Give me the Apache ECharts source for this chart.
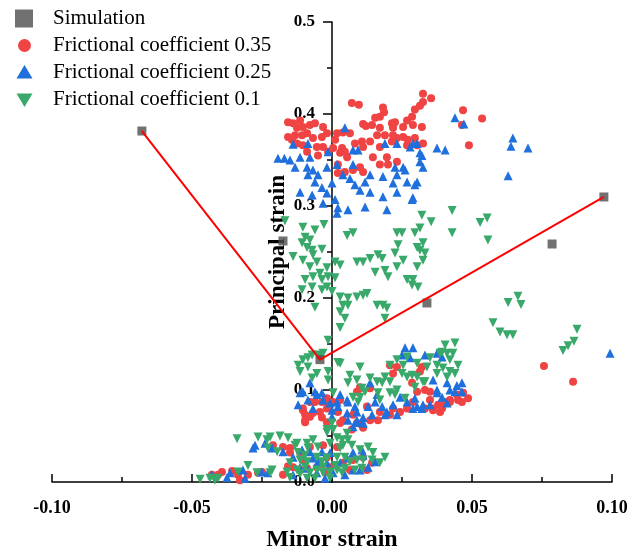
<!DOCTYPE html>
<html>
<head>
<meta charset="utf-8">
<script src="https://cdn.jsdelivr.net/npm/echarts@6/dist/echarts.min.js"></script>
<style>
html,body{margin:0;padding:0;background:#fff;}
#chart{width:635px;height:555px;}
</style>
</head>
<body>
<div id="chart"></div>
<script>
var seriesNames = ['Simulation', 'Frictional coefficient 0.35', 'Frictional coefficient 0.25', 'Frictional coefficient 0.1'];
var xTicks = [-0.10, -0.05, 0.00, 0.05, 0.10];
var yTicks = [0.0, 0.1, 0.2, 0.3, 0.4, 0.5];

var simulation = [[-0.0679,0.3815],[-0.0175,0.262],[-0.0043,0.133],[0.0339,0.1946],[0.0786,0.2587],[0.0971,0.3098]];
var limitLine = [[-0.0679,0.3815],[-0.0043,0.133],[0.0971,0.3098]];

var fc035 = [
[0.0071,0.412],[0.0096,0.410],[0.0325,0.422],[0.0354,0.417],[0.0325,0.413],[0.0314,0.409],[0.0296,0.405],[0.0286,0.397],[0.0268,0.393],
[0.0182,0.407],[0.0186,0.402],[0.0154,0.396],[0.0171,0.397],[0.0111,0.389],[0.0121,0.387],[0.0143,0.388],[0.0171,0.385],[0.0214,0.390],
[0.0225,0.391],[0.0218,0.385],[0.0254,0.386],[0.0289,0.388],[0.0321,0.386],[0.0468,0.404],[0.0536,0.395],[0.0464,0.388],[0.0489,0.366],
[-0.0157,0.391],[-0.0139,0.390],[-0.0114,0.393],[-0.0125,0.385],[-0.0104,0.386],[-0.0079,0.388],[-0.0061,0.390],[-0.0032,0.386],
[-0.0157,0.375],[-0.0132,0.377],[-0.0107,0.377],[-0.0089,0.379],[-0.0068,0.374],[-0.0036,0.375],[-0.0018,0.379],[0.0018,0.379],
[0.0039,0.380],[0.0011,0.372],[0.0036,0.363],[0.0004,0.363],[-0.0032,0.364],[-0.0054,0.364],[-0.0104,0.366],[-0.0125,0.368],
[-0.0143,0.372],[-0.0089,0.359],[-0.0050,0.355],[-0.0014,0.359],[0.0029,0.358],[0.0054,0.353],[0.0021,0.345],[0.0021,0.336],
[0.0082,0.368],[0.0107,0.370],[0.0136,0.370],[0.0111,0.364],[0.0146,0.353],[0.0171,0.364],[0.0196,0.353],[0.0214,0.370],
[0.0232,0.374],[0.0218,0.377],[0.0254,0.375],[0.0271,0.372],[0.0296,0.374],[0.0268,0.366],[0.0304,0.366],[0.0325,0.368],
[0.0171,0.345],[0.0200,0.345],[0.0232,0.348],[0.0100,0.342],[0.0111,0.337],[0.0075,0.339],[0.0046,0.337],[0.0046,0.359],
[0.0161,0.377],[0.0189,0.377],[0.0064,0.379],
[-0.0104,0.080],[-0.0089,0.071],[-0.0096,0.065],[-0.0068,0.075],[-0.0043,0.076],[-0.0036,0.070],[-0.0061,0.087],[0.0004,0.087],
[0.0021,0.076],[0.0039,0.067],[0.0075,0.073],[0.0089,0.064],[0.0107,0.062],[0.0136,0.067],[0.0164,0.067],[0.0171,0.076],
[0.0207,0.073],[0.0218,0.080],[0.0243,0.076],[0.0268,0.080],[0.0289,0.087],[0.0332,0.080],[0.0361,0.080],[0.0379,0.084],
[0.0404,0.087],[0.0421,0.089],[0.0450,0.089],[0.0486,0.091],[0.0446,0.095],[0.0304,0.098],[0.0332,0.100],[0.0350,0.098],
[0.0314,0.120],[0.0321,0.125],[0.0218,0.118],[0.0232,0.125],[0.0207,0.127],[0.0286,0.108],[0.0136,0.102],[0.0100,0.103],
[0.0089,0.098],[0.0029,0.089],[-0.0018,0.091],[-0.0079,0.087],[-0.0018,0.080],[0.0125,0.082],[0.0350,0.089],[0.0386,0.076],
[0.0464,0.087],[-0.0096,0.073],[-0.0104,0.078],[-0.0079,0.071],[-0.0036,0.087],[-0.0014,0.087],[0.0100,0.102],[0.0468,0.097],
[0.0421,0.087],[0.0393,0.080],[0.0361,0.078],[-0.0096,0.067],[-0.0018,0.065],[0.0029,0.064],[0.0071,0.057],[0.0111,0.059],
[-0.0393,0.011],[-0.0357,0.012],[-0.0336,0.008],[-0.0300,0.008],[-0.0257,0.011],[-0.0329,0.002],[-0.0407,0.008],[-0.0429,0.008],
[-0.0211,0.040],[-0.0175,0.038],[-0.0150,0.037],[-0.0079,0.038],[-0.0032,0.040],[0.0018,0.038],[-0.0018,0.027],[-0.0150,0.032],
[-0.0114,0.032],[-0.0104,0.024],[-0.0139,0.016],[-0.0114,0.013],[-0.0089,0.015],[-0.0054,0.016],[-0.0007,0.016],[0.0039,0.021],
[0.0075,0.024],[0.0111,0.027],[0.0143,0.021],[0.0125,0.013],[0.0064,0.013],[-0.0025,0.011],[-0.0264,0.010],[-0.0250,0.011],
[-0.0157,0.017],[-0.0175,0.008],
[0.0757,0.126],[0.0861,0.109]
];

var fc025 = [
[0.0046,0.385],[-0.0139,0.367],[-0.0086,0.368],[-0.0079,0.353],[-0.0193,0.352],[-0.0170,0.352],[-0.0150,0.350],[-0.0114,0.353],[-0.0132,0.342],
[-0.0089,0.342],[-0.0068,0.339],[-0.0050,0.334],[-0.0086,0.334],[-0.0061,0.326],[-0.0114,0.315],[-0.0071,0.312],[-0.0036,0.320],
[-0.0018,0.314],[0.0000,0.325],[-0.0018,0.342],[-0.0014,0.359],[0.0018,0.345],[0.0039,0.334],[0.0075,0.345],[0.0064,0.330],
[0.0082,0.323],[0.0100,0.317],[0.0118,0.326],[0.0136,0.334],[0.0136,0.315],[0.0075,0.361],[0.0093,0.361],[0.0189,0.368],
[0.0232,0.368],[0.0279,0.364],[0.0304,0.368],[0.0321,0.355],[0.0314,0.348],[0.0325,0.342],[0.0254,0.342],[0.0225,0.342],
[0.0232,0.334],[0.0182,0.332],[0.0218,0.325],[0.0268,0.326],[0.0304,0.326],[0.0296,0.323],[0.0232,0.315],[0.0182,0.310],
[0.0286,0.307],[0.0261,0.339],[0.0375,0.363],[0.0404,0.361],[0.0439,0.396],[0.0471,0.389],[0.0011,0.307],[0.0057,0.296],
[-0.0032,0.303],[0.0021,0.298],[0.0118,0.299],[0.0196,0.296],[0.0018,0.292],[0.0289,0.309],[0.0646,0.374],[0.0639,0.365],
[0.0700,0.363],[0.0629,0.333],[0.0993,0.140],[0.0289,0.368],[0.0314,0.358],
[0.0261,0.146],[0.0289,0.146],[0.0250,0.138],[0.0279,0.135],[0.0332,0.138],[0.0375,0.140],[0.0393,0.136],[-0.0079,0.108],
[-0.0061,0.098],[-0.0036,0.097],[-0.0114,0.097],[-0.0086,0.089],[-0.0032,0.089],[-0.0121,0.084],[-0.0068,0.080],[0.0000,0.078],
[0.0018,0.087],[0.0029,0.095],[0.0057,0.087],[0.0082,0.082],[0.0054,0.075],[0.0000,0.071],[0.0057,0.067],[0.0089,0.067],
[0.0111,0.064],[0.0143,0.073],[0.0129,0.082],[0.0154,0.087],[0.0179,0.082],[0.0196,0.076],[0.0218,0.084],[0.0243,0.092],
[0.0268,0.087],[0.0296,0.091],[0.0304,0.082],[0.0321,0.080],[0.0232,0.073],[0.0189,0.073],[0.0136,0.108],[0.0161,0.095],
[0.0361,0.111],[0.0375,0.100],[0.0411,0.108],[0.0421,0.100],[0.0446,0.105],[0.0464,0.098],[0.0393,0.092],[0.0411,0.086],
[0.0350,0.084],[0.0075,0.060],[-0.0104,0.098],[-0.0054,0.095],[-0.0007,0.086],[0.0021,0.082],[0.0054,0.089],[0.0089,0.076],
[0.0111,0.070],[0.0439,0.098],[0.0464,0.108],[0.0375,0.097],[0.0325,0.084],[0.0289,0.080],
[-0.0429,0.008],[-0.0375,0.005],[-0.0275,0.040],[-0.0239,0.042],[-0.0282,0.037],[-0.0214,0.037],[-0.0175,0.033],[-0.0250,0.011],
[-0.0229,0.010],[-0.0139,0.027],[-0.0107,0.035],[-0.0079,0.033],[-0.0068,0.026],[-0.0036,0.033],[-0.0007,0.032],[-0.0050,0.022],
[-0.0018,0.021],[-0.0089,0.015],[-0.0139,0.008],[-0.0054,0.010],[0.0004,0.010],[0.0029,0.021],[0.0054,0.026],[0.0075,0.032],
[0.0107,0.035],[0.0111,0.029],[0.0075,0.013],[0.0129,0.016],[0.0089,0.065],[0.0111,0.064],[-0.0311,0.004],[-0.0364,0.010],
[-0.0114,0.016],[-0.0025,0.004],[0.0046,0.008],[0.0100,0.013],[0.0154,0.022],[-0.0318,0.013]
];

var fc01 = [
[-0.0168,0.284],[-0.0104,0.277],[-0.0061,0.274],[-0.0029,0.280],[-0.0096,0.266],[-0.0079,0.263],[-0.0107,0.260],[-0.0089,0.255],
[-0.0071,0.252],[-0.0036,0.253],[-0.0139,0.245],[-0.0104,0.241],[-0.0068,0.247],[-0.0054,0.239],[-0.0018,0.233],[-0.0079,0.234],
[-0.0043,0.227],[-0.0096,0.220],[-0.0068,0.223],[-0.0036,0.220],[-0.0014,0.223],[0.0011,0.222],[-0.0018,0.212],[-0.0036,0.209],
[0.0000,0.207],[-0.0107,0.209],[-0.0071,0.212],[0.0011,0.239],[0.0029,0.236],[0.0054,0.268],[0.0075,0.271],[0.0089,0.239],
[0.0111,0.239],[0.0136,0.243],[0.0164,0.247],[0.0179,0.243],[0.0154,0.228],[0.0189,0.230],[0.0200,0.223],[0.0232,0.271],
[0.0250,0.271],[0.0236,0.258],[0.0225,0.249],[0.0254,0.241],[0.0232,0.234],[0.0268,0.220],[0.0289,0.220],[0.0286,0.214],
[0.0307,0.212],[0.0304,0.234],[0.0325,0.241],[0.0332,0.249],[0.0314,0.252],[0.0304,0.255],[0.0296,0.271],[0.0314,0.276],
[0.0321,0.290],[0.0325,0.260],[0.0429,0.295],[0.0354,0.283],[0.0429,0.271],[0.0529,0.282],[0.0554,0.287],[0.0557,0.263],
[0.0029,0.201],[0.0057,0.200],[0.0089,0.201],[0.0111,0.203],[0.0125,0.205],[0.0039,0.192],[0.0057,0.192],[0.0029,0.185],
[0.0161,0.192],[0.0182,0.192],[0.0196,0.189],[0.0189,0.178],[0.0046,0.178],[0.0029,0.168],[-0.0061,0.190],[-0.0014,0.154],
[-0.0032,0.140],[-0.0043,0.136],[-0.0086,0.135],[0.0575,0.173],[0.0600,0.163],[0.0625,0.160],[0.0646,0.160],[0.0629,0.195],
[0.0664,0.202],[0.0675,0.193],[0.0875,0.166],[0.0864,0.153],[0.0843,0.148],[0.0825,0.143],
[-0.0050,0.138],[-0.0104,0.133],[-0.0121,0.127],[-0.0086,0.125],[-0.0054,0.118],[-0.0071,0.113],[-0.0014,0.120],[-0.0014,0.111],
[0.0029,0.129],[0.0100,0.125],[0.0064,0.116],[0.0057,0.108],[0.0089,0.111],[0.0107,0.102],[0.0136,0.113],[0.0161,0.109],
[0.0179,0.108],[0.0189,0.114],[0.0207,0.109],[0.0207,0.127],[0.0232,0.133],[0.0250,0.118],[0.0254,0.127],[0.0268,0.114],
[0.0296,0.103],[0.0304,0.114],[0.0332,0.109],[0.0207,0.097],[0.0232,0.100],[0.0164,0.097],[0.0118,0.098],[0.0100,0.092],
[0.0075,0.092],[0.0093,0.087],[0.0261,0.091],[0.0268,0.136],[0.0304,0.129],[0.0339,0.125],[0.0375,0.127],[0.0393,0.141],
[0.0411,0.140],[0.0439,0.151],[0.0432,0.140],[0.0421,0.133],[0.0396,0.124],[0.0421,0.120],[0.0439,0.118],[0.0450,0.127],
[0.0411,0.114],[0.0004,0.097],[0.0021,0.130],[0.0386,0.140],[0.0375,0.118],[0.0286,0.116],[0.0325,0.109],[0.0054,0.053],
[0.0029,0.037],[0.0036,0.046],[-0.0018,0.057],[0.0000,0.064],
[-0.0071,0.138],[-0.0114,0.120],[0.0225,0.095],[0.0171,0.089],[0.0350,0.135],[0.0404,0.149],
[-0.0471,0.003],[-0.0436,0.004],[-0.0418,0.002],[-0.0336,0.011],[-0.0339,0.047],[-0.0300,0.018],[-0.0264,0.049],[-0.0221,0.049],
[-0.0186,0.050],[-0.0157,0.048],[-0.0229,0.037],[-0.0196,0.033],[-0.0221,0.010],[-0.0125,0.042],[-0.0089,0.042],[-0.0121,0.032],
[-0.0096,0.029],[-0.0086,0.037],[-0.0050,0.038],[-0.0007,0.042],[0.0018,0.048],[0.0039,0.040],[-0.0018,0.054],[0.0004,0.057],
[0.0057,0.046],[-0.0150,0.021],[-0.0161,0.011],[-0.0125,0.013],[-0.0096,0.016],[-0.0079,0.010],[-0.0054,0.013],[-0.0032,0.016],
[-0.0007,0.011],[0.0018,0.013],[-0.0018,0.026],[0.0018,0.027],[0.0046,0.027],[0.0064,0.022],[0.0089,0.024],[0.0111,0.024],
[0.0146,0.032],[0.0171,0.021],[0.0143,0.024],[0.0036,0.010],[-0.0054,0.027],[-0.0114,0.024],[-0.0089,0.022],[-0.0032,0.010],
[-0.0150,0.005],[-0.0089,0.004],[-0.0268,0.010],[-0.0214,0.013],[-0.0232,0.046],[-0.0407,0.004],
[-0.0132,0.040],[-0.0068,0.046],[-0.0036,0.022],[0.0011,0.018],[0.0046,0.015],[0.0082,0.013],[0.0107,0.015],[-0.0007,0.004],
[-0.0061,0.004],[-0.0114,0.009],[0.0071,0.040],[0.0100,0.035],[0.0189,0.027],[0.0129,0.038]
];

var colors = {sim:'#4d4d4d', red:'#f04343', blue:'#1f6fdc', green:'#38a96a', line:'#ff0000'};
var serif = "'Liberation Serif','Times New Roman',serif";

var icons = {
  square: 'path://M0,0L18,0L18,18L0,18Z M33,18',
  circle: 'path://M0,0 M33,18 M16,9 A6.5,6.5 0 1 1 3,9 A6.5,6.5 0 1 1 16,9 Z',
  up: 'path://M0,0 M33,18 M9.5,1.5 L17.5,15 L1.5,15 Z',
  down: 'path://M0,0 M33,18 M1.5,3 L17.5,3 L9.5,16.5 Z'
};

var gridLeft = 52, gridRight = 23;
var plotWidth = 635 - gridLeft - gridRight;
var yAxisShift = -plotWidth * (0 - xTicks[0]) / (xTicks[xTicks.length-1] - xTicks[0]);

var chart = echarts.init(document.getElementById('chart'), null, {renderer:'canvas'});
chart.setOption({
  animation: false,
  backgroundColor: '#fff',
  grid: {left: gridLeft, right: gridRight, top: 22, bottom: 73, containLabel: false, outerBoundsMode: 'none'},
  legend: {
    orient: 'vertical', left: 10, top: 3, itemWidth: 33, itemHeight: 18, itemGap: 6,
    textStyle: {fontFamily: serif, fontSize: 21, lineHeight: 18, color: '#000'},
    data: [
      {name: seriesNames[0], icon: icons.square},
      {name: seriesNames[1], icon: icons.circle},
      {name: seriesNames[2], icon: icons.up},
      {name: seriesNames[3], icon: icons.down}
    ]
  },
  xAxis: {
    type: 'value', min: xTicks[0], max: xTicks[xTicks.length-1], interval: 0.05,
    name: 'Minor strain', nameLocation: 'middle', nameGap: 46,
    nameTextStyle: {fontFamily: serif, fontSize: 24, fontWeight: 'bold', color: '#000'},
    axisLine: {show: true, onZero: false, lineStyle: {color: '#000', width: 1.5}},
    axisTick: {show: true, inside: true, length: 8, lineStyle: {color: '#000', width: 1.5}},
    minorTick: {show: true, splitNumber: 2, length: 5, lineStyle: {color: '#000', width: 1.5}},
    splitLine: {show: false},
    axisLabel: {fontFamily: serif, fontSize: 18, fontWeight: 'bold', color: '#000', margin: 17,
      formatter: function(v){ return (Math.abs(v) < 1e-9 ? 0 : v).toFixed(2); }}
  },
  yAxis: {
    type: 'value', position: 'left', offset: yAxisShift,
    min: yTicks[0], max: yTicks[yTicks.length-1], interval: 0.1,
    name: 'Principal strain', nameLocation: 'middle', nameGap: 42, nameRotate: 90, nameMoveOverlap: false,
    nameTextStyle: {fontFamily: serif, fontSize: 23, fontWeight: 'bold', color: '#000'},
    axisLine: {show: true, onZero: false, lineStyle: {color: '#000', width: 1.5}},
    axisTick: {show: true, inside: false, length: 9, lineStyle: {color: '#000', width: 1.5}},
    minorTick: {show: true, splitNumber: 2, length: 5, lineStyle: {color: '#000', width: 1.5}},
    splitLine: {show: false},
    axisLabel: {fontFamily: serif, fontSize: 17, fontWeight: 'bold', color: '#000', margin: 17,
      formatter: function(v){ return v.toFixed(1); }}
  },
  series: [
    {name: seriesNames[1], type: 'scatter', data: fc035, symbol: 'circle', symbolSize: 8,
     itemStyle: {color: colors.red, opacity: 1}, z: 2},
    {name: seriesNames[2], type: 'scatter', data: fc025, symbol: 'triangle', symbolSize: 9,
     itemStyle: {color: colors.blue, opacity: 1}, z: 3},
    {name: seriesNames[3], type: 'scatter', data: fc01, symbol: 'triangle', symbolRotate: 180, symbolSize: 9,
     itemStyle: {color: colors.green, opacity: 1}, z: 4},
    {name: seriesNames[0], type: 'scatter', data: simulation, symbol: 'rect', symbolSize: 9,
     itemStyle: {color: colors.sim}, z: 5},
    {name: 'line', type: 'line', data: limitLine, symbol: 'none', lineStyle: {color: colors.line, width: 2},
     itemStyle: {color: colors.line}, z: 6, silent: true}
  ]
});
</script>
</body>
</html>
